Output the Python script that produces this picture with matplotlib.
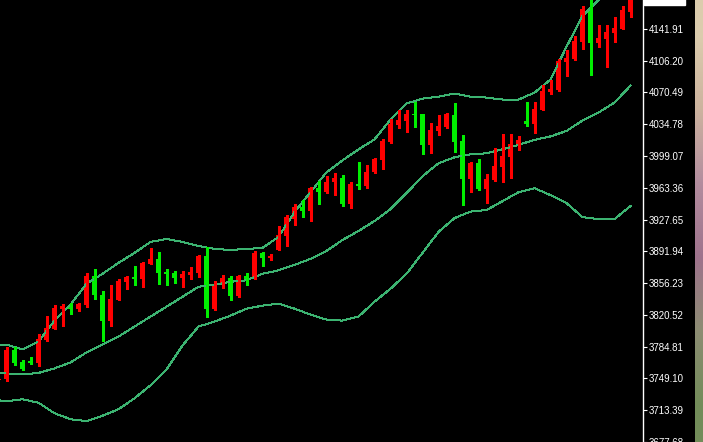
import numpy as np
import matplotlib
matplotlib.use("Agg")
import matplotlib.pyplot as plt

# candle data, index -1 is the half hidden bar at the left edge
opens = [3746.9, 3748.1, 3780.5, 3767.1, 3768.2, 3766.0, 3792.8, 3805.1, 3827.5, 3830.9,
         3827.5, 3832.0, 3864.4, 3843.2, 3814.1, 3837.6, 3857.7, 3863.3, 3861.1, 3877.9,
         3883.5, 3868.9, 3867.8, 3862.2, 3865.5, 3867.8, 3886.8, 3827.5, 3855.5, 3862.2,
         3842.1, 3864.4, 3861.1, 3890.2, 3884.6, 3893.5, 3909.2, 3928.2, 3941.6, 3937.2,
         3962.9, 3958.4, 3969.6, 3974.1, 3945.0, 3967.4, 3965.1, 3980.8, 3994.2, 4014.4,
         4033.4, 4037.9, 4046.8, 4045.7, 4011.0, 4026.7, 4031.1, 4044.6, 4015.5, 3973.0,
         3990.9, 3961.8, 3971.8, 3986.4, 3997.6, 4011.0, 4037.9, 4034.5, 4051.3, 4071.4,
         4073.7, 4105.0, 4108.3, 4127.4, 4164.3, 4126.3, 4130.7, 4137.4, 4141.9, 4160.9]
highs = [3750.3, 3783.9, 3783.9, 3769.3, 3772.7, 3799.5, 3819.7, 3832.0, 3833.1, 3834.2,
         3834.2, 3867.8, 3872.3, 3847.6, 3854.4, 3861.1, 3863.9, 3875.6, 3880.1, 3895.8,
         3891.3, 3872.3, 3870.0, 3870.0, 3874.5, 3887.9, 3896.9, 3858.8, 3865.5, 3864.4,
         3865.5, 3867.8, 3892.4, 3890.7, 3889.0, 3920.4, 3932.7, 3945.0, 3949.5, 3964.0,
         3970.7, 3976.3, 3979.7, 3977.4, 3969.6, 3992.0, 3988.6, 3996.5, 4017.7, 4040.1,
         4050.2, 4051.3, 4060.2, 4046.8, 4036.7, 4044.6, 4047.9, 4059.1, 4022.2, 3992.0,
         3995.3, 3978.6, 4007.6, 4023.3, 4023.3, 4021.1, 4060.2, 4060.2, 4079.3, 4084.9,
         4108.3, 4118.4, 4134.1, 4167.7, 4176.6, 4146.4, 4146.4, 4155.3, 4167.7, 4183.3]
lows = [3745.8, 3745.8, 3763.7, 3758.7, 3764.8, 3762.6, 3791.7, 3804.6, 3808.5, 3821.9,
        3825.3, 3829.7, 3838.7, 3791.7, 3808.5, 3837.0, 3849.9, 3854.4, 3852.1, 3877.3,
        3855.5, 3854.4, 3856.6, 3852.1, 3861.1, 3863.3, 3818.6, 3826.4, 3851.0, 3837.6,
        3840.9, 3854.4, 3860.5, 3875.6, 3882.3, 3893.0, 3898.0, 3921.5, 3930.4, 3926.0,
        3945.0, 3957.3, 3955.1, 3942.8, 3940.5, 3961.8, 3962.9, 3979.7, 3984.2, 4013.8,
        4030.0, 4025.6, 4031.1, 4000.9, 4002.1, 4022.2, 4030.0, 4003.2, 3943.9, 3958.4,
        3960.7, 3946.1, 3971.3, 3969.6, 3974.1, 4005.4, 4032.3, 4024.4, 4050.7, 4069.2,
        4072.5, 4089.3, 4107.2, 4119.5, 4090.4, 4121.8, 4099.4, 4127.4, 4141.4, 4155.3]
closes = [3748.6, 3780.5, 3766.0, 3759.3, 3766.0, 3793.9, 3806.2, 3828.6, 3830.9, 3827.5,
          3833.1, 3864.4, 3843.2, 3814.1, 3838.7, 3858.8, 3863.3, 3861.1, 3879.0, 3883.5,
          3867.8, 3866.7, 3862.2, 3866.7, 3868.9, 3886.8, 3827.5, 3855.5, 3862.2, 3842.1,
          3864.4, 3861.1, 3890.2, 3884.6, 3886.8, 3910.3, 3930.4, 3941.6, 3937.2, 3962.9,
          3958.4, 3969.6, 3974.1, 3945.0, 3967.4, 3965.1, 3980.8, 3995.3, 4015.5, 4034.5,
          4039.0, 4046.8, 4044.6, 4011.0, 4027.8, 4032.3, 4045.7, 4014.4, 3973.0, 3990.9,
          3961.8, 3973.0, 3987.5, 3998.7, 4012.1, 4016.6, 4034.5, 4052.4, 4072.5, 4074.8,
          4106.1, 4109.5, 4128.5, 4164.3, 4126.3, 4131.8, 4138.6, 4143.0, 4163.2, 4178.8]

# bollinger bands read every second bar (first point at bar -1)
band_upper = [3787.2, 3787.2, 3781.6, 3790.6, 3814.1, 3832.0, 3855.5, 3866.7, 3879.0, 3890.2,
              3902.5, 3905.8, 3902.5, 3898.0, 3894.6, 3893.5, 3894.6, 3895.8, 3908.1, 3936.0,
              3958.4, 3980.8, 3994.2, 4006.5, 4017.7, 4040.1, 4058.0, 4063.6, 4065.8, 4069.2,
              4065.8, 4064.7, 4062.5, 4062.5, 4070.3, 4084.9, 4121.8, 4156.5, 4174.4, 4196.7,
              4219.1]
band_mid = [3754.8, 3754.8, 3753.7, 3755.3, 3760.4, 3767.1, 3778.3, 3787.2, 3796.2, 3807.4,
            3818.6, 3829.7, 3840.9, 3852.1, 3854.4, 3857.7, 3859.4, 3866.7, 3870.6, 3876.7,
            3883.5, 3892.4, 3904.7, 3914.8, 3926.0, 3939.4, 3957.3, 3976.3, 3990.9, 3997.6,
            4000.9, 4002.1, 4006.5, 4011.6, 4017.2, 4021.1, 4027.2, 4039.0, 4047.9, 4059.1,
            4078.1]
band_lower = [3724.6, 3723.4, 3725.7, 3721.8, 3710.0, 3703.3, 3701.1, 3707.2, 3714.5, 3726.8,
              3741.4, 3759.3, 3786.1, 3807.4, 3813.0, 3819.7, 3827.5, 3830.9, 3833.1, 3827.5,
              3820.8, 3815.2, 3814.1, 3818.6, 3835.3, 3849.9, 3866.7, 3890.2, 3913.7, 3929.3,
              3936.6, 3938.3, 3948.3, 3958.4, 3962.9, 3955.1, 3946.1, 3930.4, 3928.2, 3928.2,
              3942.8]

tick_values = [4141.91, 4106.20, 4070.49, 4034.78, 3999.07, 3963.36, 3927.65,
               3891.94, 3856.23, 3820.52, 3784.81, 3749.10, 3713.39, 3677.68]

o = np.array(opens)
h = np.array(highs)
l = np.array(lows)
c = np.array(closes)
xs = np.arange(-1, len(o) - 1)
band_x = np.r_[-1, np.arange(0, 79, 2)]

up_col = '#ff0000'
down_col = '#00ee00'
band_col = '#3cb371'
cols = [up_col if cc >= oo else down_col for oo, cc in zip(o, c)]

fig = plt.figure(figsize=(7.03, 4.42), dpi=100, facecolor='black')
ax = fig.add_axes([0, 0, 643 / 703, 1])
ax.set_facecolor('black')

for band in (band_upper, band_mid, band_lower):
    ax.plot(band_x, band, color=band_col, lw=0.72, antialiased=False)

ax.vlines(xs, l, h, colors=cols, lw=0.8, antialiased=False)
body_low = np.minimum(o, c)
body_h = np.maximum(np.abs(c - o), 1.2)
ax.bar(xs, body_h, bottom=body_low, width=0.625, color=cols, linewidth=0, antialiased=False)

ax.set_xlim(-6.5 / 8, (643 - 6.5) / 8)
ax.set_ylim(4174.36 - 1.1189 * 442, 4174.36)
ax.set_xticks([])
for s in ['top', 'bottom', 'left']:
    ax.spines[s].set_visible(False)
ax.spines['right'].set_color('white')
ax.spines['right'].set_linewidth(1.0)
ax.yaxis.tick_right()
ax.set_yticks(tick_values)
ax.set_yticklabels(['%.2f' % v for v in tick_values])
ax.tick_params(axis='y', colors='white', length=3, width=0.8, pad=1, labelsize=7)
for t in ax.get_yticklabels():
    t.set_family('Liberation Sans')

# current price label box, mostly above the top edge
fig.text(647 / 703, 1.0 + 3 / 442, '%.2f' % closes[-1], color='black', fontsize=7,
         family='Liberation Sans', va='center', ha='left',
         bbox=dict(boxstyle='square,pad=0.3', fc='white', ec='white'))

# strip of desktop showing at the right edge
strip = fig.add_axes([695 / 703, 0, 8 / 703, 1])
grad = np.array([[0.86, 0.80, 0.68], [0.80, 0.70, 0.62], [0.70, 0.55, 0.62],
                 [0.62, 0.45, 0.55], [0.55, 0.55, 0.45], [0.45, 0.55, 0.35]])
strip.imshow(grad[:, None, :], aspect='auto', interpolation='bilinear')
strip.axis('off')

fig.savefig('out.png', dpi=100, facecolor='black')
